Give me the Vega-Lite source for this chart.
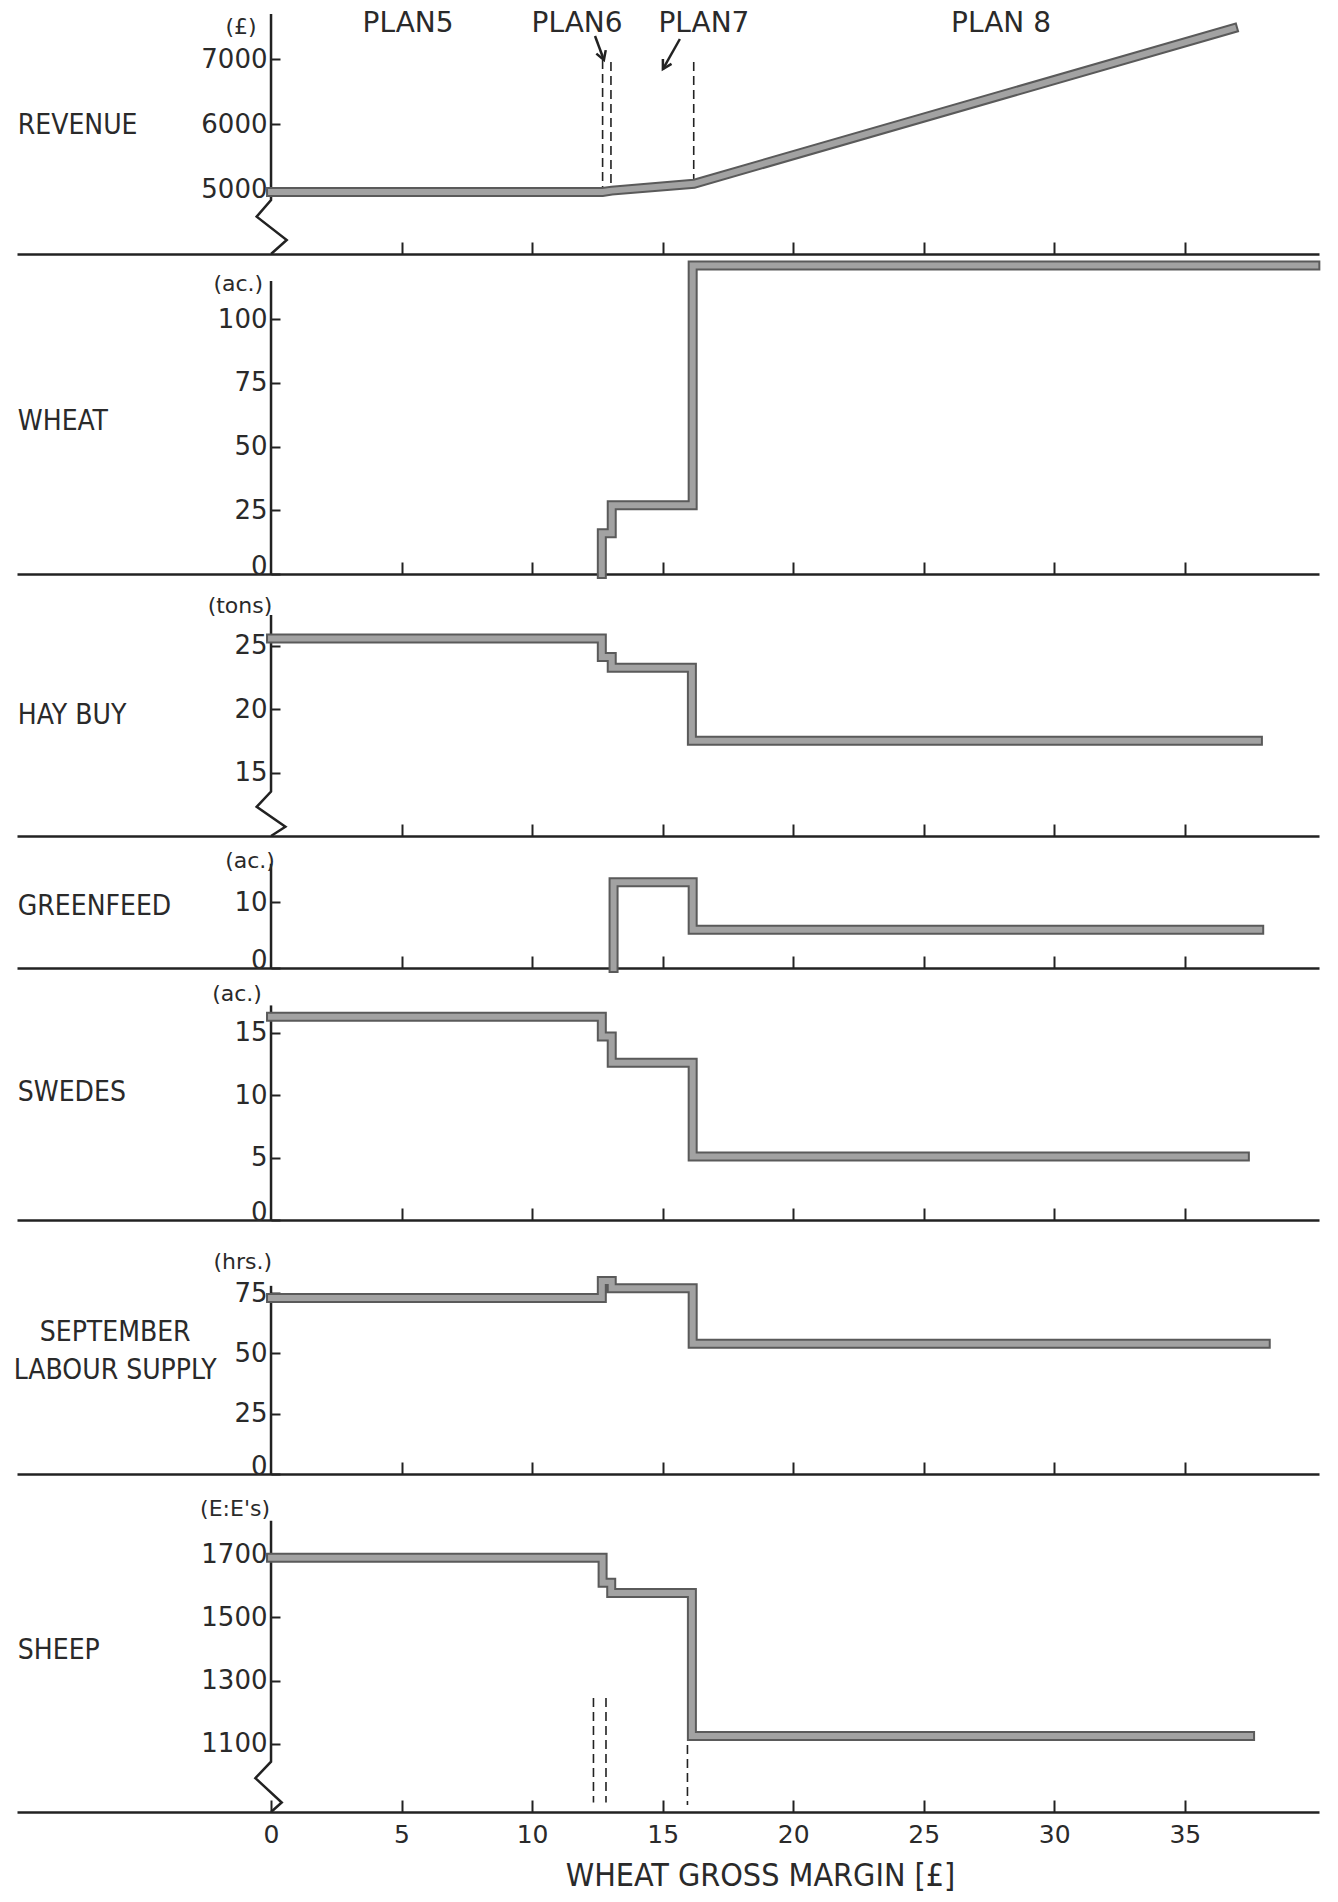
{
  "$schema": "https://vega.github.io/schema/vega-lite/v6.json",
  "background": "white",
  "padding": {"left": 13, "top": 0, "right": 0, "bottom": 8},
  "spacing": 0,
  "bounds": "flush",
  "config": {
    "view": {"stroke": null},
    "concat": {"spacing": 0},
    "axis": {"grid": false, "labelFont": "DejaVu Sans", "labelColor": "#2a2a2a", "domainColor": "#222", "tickColor": "#222", "format": "d"},
    "axisX": {"tickSize": -12, "tickWidth": 2, "domainWidth": 2.5, "labelFontSize": 25, "labelPadding": 22},
    "axisY": {"domain": false, "tickSize": -9, "tickWidth": 2, "labelPadding": 13, "labelFontSize": 26, "labelBaseline": {"condition": {"test": "datum.value === 0", "value": "alphabetic"}, "value": "middle"}}
  },
  "data": {"values": [
    {"p":"rev","k":"s","g":"s","o":1,"x":0,"y":4955},
    {"p":"rev","k":"s","g":"s","o":2,"x":12.7,"y":4955},
    {"p":"rev","k":"s","g":"s","o":3,"x":13.05,"y":4975},
    {"p":"rev","k":"s","g":"s","o":4,"x":16.2,"y":5080},
    {"p":"rev","k":"s","g":"s","o":5,"x":36.85,"y":7470},
    {"p":"rev","k":"i","g":"ax","o":1,"x":0,"y":7692},
    {"p":"rev","k":"i","g":"ax","o":2,"x":0,"y":4831},
    {"p":"rev","k":"i","g":"ax","o":3,"x":-0.55,"y":4574},
    {"p":"rev","k":"i","g":"ax","o":4,"x":0.6,"y":4215},
    {"p":"rev","k":"i","g":"ax","o":5,"x":0,"y":4000},
    {"p":"rev","k":"i","g":"a6","o":1,"x":12.41,"y":7354},
    {"p":"rev","k":"i","g":"a6","o":2,"x":12.75,"y":6985},
    {"p":"rev","k":"i","g":"a6h","o":1,"x":12.82,"y":7137},
    {"p":"rev","k":"i","g":"a6h","o":2,"x":12.75,"y":6985},
    {"p":"rev","k":"i","g":"a6h","o":3,"x":12.46,"y":7083},
    {"p":"rev","k":"i","g":"a7","o":1,"x":15.66,"y":7308},
    {"p":"rev","k":"i","g":"a7","o":2,"x":15.01,"y":6846},
    {"p":"rev","k":"i","g":"a7h","o":1,"x":15.34,"y":6925},
    {"p":"rev","k":"i","g":"a7h","o":2,"x":15.01,"y":6846},
    {"p":"rev","k":"i","g":"a7h","o":3,"x":15.01,"y":7000},
    {"p":"rev","k":"d","x":12.7,"y":6985,"y2":4960},
    {"p":"rev","k":"d","x":13.02,"y":6954,"y2":4970},
    {"p":"rev","k":"d","x":16.19,"y":6954,"y2":5085},
    {"p":"rev","k":"plan","x":5.25,"y":7538,"t":"PLAN5"},
    {"p":"rev","k":"plan","x":11.72,"y":7538,"t":"PLAN6"},
    {"p":"rev","k":"plan","x":16.58,"y":7538,"t":"PLAN7"},
    {"p":"rev","k":"plan","x":27.96,"y":7538,"t":"PLAN 8"},
    {"p":"rev","k":"row","x":-9.7,"y":5969,"t":"REVENUE"},
    {"p":"rev","k":"unit","x":-0.55,"y":7492,"t":"(£)"},

    {"p":"wht","k":"s","g":"s","o":1,"x":12.67,"y":0},
    {"p":"wht","k":"s","g":"s","o":2,"x":12.67,"y":16},
    {"p":"wht","k":"s","g":"s","o":3,"x":13.05,"y":16},
    {"p":"wht","k":"s","g":"s","o":4,"x":13.05,"y":27},
    {"p":"wht","k":"s","g":"s","o":5,"x":16.15,"y":27},
    {"p":"wht","k":"s","g":"s","o":6,"x":16.15,"y":121},
    {"p":"wht","k":"s","g":"s","o":7,"x":40.0,"y":121},
    {"p":"wht","k":"i","g":"ax","o":1,"x":0,"y":114.9},
    {"p":"wht","k":"i","g":"ax","o":2,"x":0,"y":0},
    {"p":"wht","k":"row","x":-9.7,"y":59.6,"t":"WHEAT"},
    {"p":"wht","k":"unit","x":-0.3,"y":113.7,"t":"(ac.)"},

    {"p":"hay","k":"s","g":"s","o":1,"x":0,"y":25.55},
    {"p":"hay","k":"s","g":"s","o":2,"x":12.67,"y":25.55},
    {"p":"hay","k":"s","g":"s","o":3,"x":12.67,"y":24.1},
    {"p":"hay","k":"s","g":"s","o":4,"x":13.05,"y":24.1},
    {"p":"hay","k":"s","g":"s","o":5,"x":13.05,"y":23.25},
    {"p":"hay","k":"s","g":"s","o":6,"x":16.12,"y":23.25},
    {"p":"hay","k":"s","g":"s","o":7,"x":16.12,"y":17.5},
    {"p":"hay","k":"s","g":"s","o":8,"x":37.8,"y":17.5},
    {"p":"hay","k":"i","g":"ax","o":1,"x":0,"y":27.4},
    {"p":"hay","k":"i","g":"ax","o":2,"x":0,"y":13.5},
    {"p":"hay","k":"i","g":"ax","o":3,"x":-0.55,"y":12.3},
    {"p":"hay","k":"i","g":"ax","o":4,"x":0.55,"y":10.73},
    {"p":"hay","k":"i","g":"ax","o":5,"x":0,"y":10},
    {"p":"hay","k":"row","x":-9.7,"y":19.45,"t":"HAY  BUY"},
    {"p":"hay","k":"unit","x":0.05,"y":28.1,"t":"(tons)"},

    {"p":"grn","k":"s","g":"s","o":1,"x":13.12,"y":0},
    {"p":"grn","k":"s","g":"s","o":2,"x":13.12,"y":13.0},
    {"p":"grn","k":"s","g":"s","o":3,"x":16.15,"y":13.0},
    {"p":"grn","k":"s","g":"s","o":4,"x":16.15,"y":5.8},
    {"p":"grn","k":"s","g":"s","o":5,"x":37.85,"y":5.8},
    {"p":"grn","k":"i","g":"ax","o":1,"x":0,"y":15.8},
    {"p":"grn","k":"i","g":"ax","o":2,"x":0,"y":0},
    {"p":"grn","k":"row","x":-9.7,"y":9.24,"t":"GREENFEED"},
    {"p":"grn","k":"unit","x":0.15,"y":16.2,"t":"(ac.)"},

    {"p":"swd","k":"s","g":"s","o":1,"x":0,"y":16.3},
    {"p":"swd","k":"s","g":"s","o":2,"x":12.67,"y":16.3},
    {"p":"swd","k":"s","g":"s","o":3,"x":12.67,"y":14.7},
    {"p":"swd","k":"s","g":"s","o":4,"x":13.05,"y":14.7},
    {"p":"swd","k":"s","g":"s","o":5,"x":13.05,"y":12.6},
    {"p":"swd","k":"s","g":"s","o":6,"x":16.15,"y":12.6},
    {"p":"swd","k":"s","g":"s","o":7,"x":16.15,"y":5.1},
    {"p":"swd","k":"s","g":"s","o":8,"x":37.3,"y":5.1},
    {"p":"swd","k":"i","g":"ax","o":1,"x":0,"y":17.2},
    {"p":"swd","k":"i","g":"ax","o":2,"x":0,"y":0},
    {"p":"swd","k":"row","x":-9.7,"y":10.2,"t":"SWEDES"},
    {"p":"swd","k":"unit","x":-0.35,"y":18.1,"t":"(ac.)"},

    {"p":"lab","k":"s","g":"s","o":1,"x":0,"y":73},
    {"p":"lab","k":"s","g":"s","o":2,"x":12.67,"y":73},
    {"p":"lab","k":"s","g":"s","o":3,"x":12.67,"y":80},
    {"p":"lab","k":"s","g":"s","o":4,"x":13.05,"y":80},
    {"p":"lab","k":"s","g":"s","o":5,"x":13.05,"y":77},
    {"p":"lab","k":"s","g":"s","o":6,"x":16.15,"y":77},
    {"p":"lab","k":"s","g":"s","o":7,"x":16.15,"y":54},
    {"p":"lab","k":"s","g":"s","o":8,"x":38.1,"y":54},
    {"p":"lab","k":"i","g":"ax","o":1,"x":0,"y":78},
    {"p":"lab","k":"i","g":"ax","o":2,"x":0,"y":0},
    {"p":"lab","k":"row","x":-5.97,"y":58.4,"t":"SEPTEMBER"},
    {"p":"lab","k":"row","x":-5.97,"y":42.7,"t":"LABOUR SUPPLY"},
    {"p":"lab","k":"unit","x":0.04,"y":88,"t":"(hrs.)"},

    {"p":"shp","k":"s","g":"s","o":1,"x":0,"y":1688},
    {"p":"shp","k":"s","g":"s","o":2,"x":12.7,"y":1688},
    {"p":"shp","k":"s","g":"s","o":3,"x":12.7,"y":1609},
    {"p":"shp","k":"s","g":"s","o":4,"x":13.03,"y":1609},
    {"p":"shp","k":"s","g":"s","o":5,"x":13.03,"y":1577},
    {"p":"shp","k":"s","g":"s","o":6,"x":16.12,"y":1577},
    {"p":"shp","k":"s","g":"s","o":7,"x":16.12,"y":1125},
    {"p":"shp","k":"s","g":"s","o":8,"x":37.5,"y":1125},
    {"p":"shp","k":"i","g":"ax","o":1,"x":0,"y":1805},
    {"p":"shp","k":"i","g":"ax","o":2,"x":0,"y":1044},
    {"p":"shp","k":"i","g":"ax","o":3,"x":-0.6,"y":992},
    {"p":"shp","k":"i","g":"ax","o":4,"x":0.41,"y":915},
    {"p":"shp","k":"i","g":"ax","o":5,"x":0,"y":885},
    {"p":"shp","k":"d","x":12.35,"y":1245,"y2":915},
    {"p":"shp","k":"d","x":12.83,"y":1245,"y2":915},
    {"p":"shp","k":"d","x":15.95,"y":1097,"y2":907},
    {"p":"shp","k":"row","x":-9.7,"y":1394,"t":"SHEEP"},
    {"p":"shp","k":"unit","x":-0.04,"y":1842,"t":"(E:E's)"}
  ]},
  "vconcat": [
    {
      "width": 1302, "height": 254,
      "transform": [{"filter": "datum.p == 'rev'"}],
      "encoding": {
        "x": {"field": "x", "type": "quantitative", "scale": {"domain": [-9.73, 40.14], "nice": false, "zero": false}, "axis": {"values": [5,10,15,20,25,30,35], "labels": false, "title": null}},
        "y": {"field": "y", "type": "quantitative", "scale": {"domain": [4000, 7908], "nice": false, "zero": false}, "axis": {"values": [5000,6000,7000], "offset": -254, "title": null}}
      },
      "layer": [
        {"transform": [{"filter": "datum.k == 'i'"}], "mark": {"type": "line", "stroke": "#222", "strokeWidth": 2.5, "strokeJoin": "miter"}, "encoding": {"detail": {"field": "g"}, "order": {"field": "o"}}},
        {"transform": [{"filter": "datum.k == 'd'"}], "mark": {"type": "rule", "stroke": "#222", "strokeWidth": 1.6, "strokeDash": [9, 5]}, "encoding": {"y2": {"field": "y2"}}},
        {"transform": [{"filter": "datum.k == 's'"}], "mark": {"type": "line", "stroke": "#5a5a5a", "strokeWidth": 10, "strokeCap": "square", "strokeJoin": "miter"}, "encoding": {"detail": {"field": "g"}, "order": {"field": "o"}}},
        {"transform": [{"filter": "datum.k == 's'"}], "mark": {"type": "line", "stroke": "#a2a2a2", "strokeWidth": 6, "strokeCap": "square", "strokeJoin": "miter"}, "encoding": {"detail": {"field": "g"}, "order": {"field": "o"}}},
        {"transform": [{"filter": "datum.k == 'plan'"}], "mark": {"type": "text", "font": "DejaVu Sans", "fontSize": 28, "align": "center", "baseline": "middle", "color": "#2a2a2a"}, "encoding": {"text": {"field": "t"}}},
        {"transform": [{"filter": "datum.k == 'row'"}], "mark": {"type": "text", "font": "Liberation Sans Narrow, DejaVu Sans Condensed, sans-serif", "fontSize": 28, "align": "left", "baseline": "middle", "color": "#2a2a2a"}, "encoding": {"text": {"field": "t"}}},
        {"transform": [{"filter": "datum.k == 'unit'"}], "mark": {"type": "text", "font": "DejaVu Sans", "fontSize": 22, "align": "right", "baseline": "middle", "color": "#2a2a2a"}, "encoding": {"text": {"field": "t"}}}
      ]
    },
    {
      "width": 1302, "height": 320,
      "transform": [{"filter": "datum.p == 'wht'"}],
      "encoding": {
        "x": {"field": "x", "type": "quantitative", "scale": {"domain": [-9.73, 40.14], "nice": false, "zero": false}, "axis": {"values": [5,10,15,20,25,30,35], "labels": false, "title": null}},
        "y": {"field": "y", "type": "quantitative", "scale": {"domain": [0, 125.5], "nice": false, "zero": false}, "axis": {"values": [0,25,50,75,100], "offset": -254, "title": null}}
      },
      "layer": [
        {"transform": [{"filter": "datum.k == 'i'"}], "mark": {"type": "line", "stroke": "#222", "strokeWidth": 2.5, "strokeJoin": "miter"}, "encoding": {"detail": {"field": "g"}, "order": {"field": "o"}}},
        {"transform": [{"filter": "datum.k == 's'"}], "mark": {"type": "line", "stroke": "#5a5a5a", "strokeWidth": 10, "strokeCap": "square", "strokeJoin": "miter"}, "encoding": {"detail": {"field": "g"}, "order": {"field": "o"}}},
        {"transform": [{"filter": "datum.k == 's'"}], "mark": {"type": "line", "stroke": "#a2a2a2", "strokeWidth": 6, "strokeCap": "square", "strokeJoin": "miter"}, "encoding": {"detail": {"field": "g"}, "order": {"field": "o"}}},
        {"transform": [{"filter": "datum.k == 'row'"}], "mark": {"type": "text", "font": "Liberation Sans Narrow, DejaVu Sans Condensed, sans-serif", "fontSize": 28, "align": "left", "baseline": "middle", "color": "#2a2a2a"}, "encoding": {"text": {"field": "t"}}},
        {"transform": [{"filter": "datum.k == 'unit'"}], "mark": {"type": "text", "font": "DejaVu Sans", "fontSize": 22, "align": "right", "baseline": "middle", "color": "#2a2a2a"}, "encoding": {"text": {"field": "t"}}}
      ]
    },
    {
      "width": 1302, "height": 262,
      "transform": [{"filter": "datum.p == 'hay'"}],
      "encoding": {
        "x": {"field": "x", "type": "quantitative", "scale": {"domain": [-9.73, 40.14], "nice": false, "zero": false}, "axis": {"values": [5,10,15,20,25,30,35], "labels": false, "title": null}},
        "y": {"field": "y", "type": "quantitative", "scale": {"domain": [10, 30.63], "nice": false, "zero": false}, "axis": {"values": [15,20,25], "offset": -254, "title": null}}
      },
      "layer": [
        {"transform": [{"filter": "datum.k == 'i'"}], "mark": {"type": "line", "stroke": "#222", "strokeWidth": 2.5, "strokeJoin": "miter"}, "encoding": {"detail": {"field": "g"}, "order": {"field": "o"}}},
        {"transform": [{"filter": "datum.k == 's'"}], "mark": {"type": "line", "stroke": "#5a5a5a", "strokeWidth": 10, "strokeCap": "square", "strokeJoin": "miter"}, "encoding": {"detail": {"field": "g"}, "order": {"field": "o"}}},
        {"transform": [{"filter": "datum.k == 's'"}], "mark": {"type": "line", "stroke": "#a2a2a2", "strokeWidth": 6, "strokeCap": "square", "strokeJoin": "miter"}, "encoding": {"detail": {"field": "g"}, "order": {"field": "o"}}},
        {"transform": [{"filter": "datum.k == 'row'"}], "mark": {"type": "text", "font": "Liberation Sans Narrow, DejaVu Sans Condensed, sans-serif", "fontSize": 28, "align": "left", "baseline": "middle", "color": "#2a2a2a"}, "encoding": {"text": {"field": "t"}}},
        {"transform": [{"filter": "datum.k == 'unit'"}], "mark": {"type": "text", "font": "DejaVu Sans", "fontSize": 22, "align": "right", "baseline": "middle", "color": "#2a2a2a"}, "encoding": {"text": {"field": "t"}}}
      ]
    },
    {
      "width": 1302, "height": 132,
      "transform": [{"filter": "datum.p == 'grn'"}],
      "encoding": {
        "x": {"field": "x", "type": "quantitative", "scale": {"domain": [-9.73, 40.14], "nice": false, "zero": false}, "axis": {"values": [5,10,15,20,25,30,35], "labels": false, "title": null}},
        "y": {"field": "y", "type": "quantitative", "scale": {"domain": [0, 20], "nice": false, "zero": false}, "axis": {"values": [0,10], "offset": -254, "title": null}}
      },
      "layer": [
        {"transform": [{"filter": "datum.k == 'i'"}], "mark": {"type": "line", "stroke": "#222", "strokeWidth": 2.5, "strokeJoin": "miter"}, "encoding": {"detail": {"field": "g"}, "order": {"field": "o"}}},
        {"transform": [{"filter": "datum.k == 's'"}], "mark": {"type": "line", "stroke": "#5a5a5a", "strokeWidth": 10, "strokeCap": "square", "strokeJoin": "miter"}, "encoding": {"detail": {"field": "g"}, "order": {"field": "o"}}},
        {"transform": [{"filter": "datum.k == 's'"}], "mark": {"type": "line", "stroke": "#a2a2a2", "strokeWidth": 6, "strokeCap": "square", "strokeJoin": "miter"}, "encoding": {"detail": {"field": "g"}, "order": {"field": "o"}}},
        {"transform": [{"filter": "datum.k == 'row'"}], "mark": {"type": "text", "font": "Liberation Sans Narrow, DejaVu Sans Condensed, sans-serif", "fontSize": 28, "align": "left", "baseline": "middle", "color": "#2a2a2a"}, "encoding": {"text": {"field": "t"}}},
        {"transform": [{"filter": "datum.k == 'unit'"}], "mark": {"type": "text", "font": "DejaVu Sans", "fontSize": 22, "align": "right", "baseline": "middle", "color": "#2a2a2a"}, "encoding": {"text": {"field": "t"}}}
      ]
    },
    {
      "width": 1302, "height": 252,
      "transform": [{"filter": "datum.p == 'swd'"}],
      "encoding": {
        "x": {"field": "x", "type": "quantitative", "scale": {"domain": [-9.73, 40.14], "nice": false, "zero": false}, "axis": {"values": [5,10,15,20,25,30,35], "labels": false, "title": null}},
        "y": {"field": "y", "type": "quantitative", "scale": {"domain": [0, 20.2], "nice": false, "zero": false}, "axis": {"values": [0,5,10,15], "offset": -254, "title": null}}
      },
      "layer": [
        {"transform": [{"filter": "datum.k == 'i'"}], "mark": {"type": "line", "stroke": "#222", "strokeWidth": 2.5, "strokeJoin": "miter"}, "encoding": {"detail": {"field": "g"}, "order": {"field": "o"}}},
        {"transform": [{"filter": "datum.k == 's'"}], "mark": {"type": "line", "stroke": "#5a5a5a", "strokeWidth": 10, "strokeCap": "square", "strokeJoin": "miter"}, "encoding": {"detail": {"field": "g"}, "order": {"field": "o"}}},
        {"transform": [{"filter": "datum.k == 's'"}], "mark": {"type": "line", "stroke": "#a2a2a2", "strokeWidth": 6, "strokeCap": "square", "strokeJoin": "miter"}, "encoding": {"detail": {"field": "g"}, "order": {"field": "o"}}},
        {"transform": [{"filter": "datum.k == 'row'"}], "mark": {"type": "text", "font": "Liberation Sans Narrow, DejaVu Sans Condensed, sans-serif", "fontSize": 28, "align": "left", "baseline": "middle", "color": "#2a2a2a"}, "encoding": {"text": {"field": "t"}}},
        {"transform": [{"filter": "datum.k == 'unit'"}], "mark": {"type": "text", "font": "DejaVu Sans", "fontSize": 22, "align": "right", "baseline": "middle", "color": "#2a2a2a"}, "encoding": {"text": {"field": "t"}}}
      ]
    },
    {
      "width": 1302, "height": 254,
      "transform": [{"filter": "datum.p == 'lab'"}],
      "encoding": {
        "x": {"field": "x", "type": "quantitative", "scale": {"domain": [-9.73, 40.14], "nice": false, "zero": false}, "axis": {"values": [5,10,15,20,25,30,35], "labels": false, "title": null}},
        "y": {"field": "y", "type": "quantitative", "scale": {"domain": [0, 105.3], "nice": false, "zero": false}, "axis": {"values": [0,25,50,75], "offset": -254, "title": null}}
      },
      "layer": [
        {"transform": [{"filter": "datum.k == 'i'"}], "mark": {"type": "line", "stroke": "#222", "strokeWidth": 2.5, "strokeJoin": "miter"}, "encoding": {"detail": {"field": "g"}, "order": {"field": "o"}}},
        {"transform": [{"filter": "datum.k == 's'"}], "mark": {"type": "line", "stroke": "#5a5a5a", "strokeWidth": 10, "strokeCap": "square", "strokeJoin": "miter"}, "encoding": {"detail": {"field": "g"}, "order": {"field": "o"}}},
        {"transform": [{"filter": "datum.k == 's'"}], "mark": {"type": "line", "stroke": "#a2a2a2", "strokeWidth": 6, "strokeCap": "square", "strokeJoin": "miter"}, "encoding": {"detail": {"field": "g"}, "order": {"field": "o"}}},
        {"transform": [{"filter": "datum.k == 'row'"}], "mark": {"type": "text", "font": "Liberation Sans Narrow, DejaVu Sans Condensed, sans-serif", "fontSize": 28, "align": "center", "baseline": "middle", "color": "#2a2a2a"}, "encoding": {"text": {"field": "t"}}},
        {"transform": [{"filter": "datum.k == 'unit'"}], "mark": {"type": "text", "font": "DejaVu Sans", "fontSize": 22, "align": "right", "baseline": "middle", "color": "#2a2a2a"}, "encoding": {"text": {"field": "t"}}}
      ]
    },
    {
      "width": 1302, "height": 338,
      "transform": [{"filter": "datum.p == 'shp'"}],
      "encoding": {
        "x": {"field": "x", "type": "quantitative", "scale": {"domain": [-9.73, 40.14], "nice": false, "zero": false}, "axis": {"values": [0,5,10,15,20,25,30,35], "title": "WHEAT GROSS MARGIN [£]", "titleFont": "Liberation Sans Narrow, DejaVu Sans Condensed, sans-serif", "titleFontSize": 32, "titleFontWeight": "normal", "titleColor": "#2a2a2a", "titleX": 743, "titleY": 63, "titleAlign": "center", "titleBaseline": "middle"}},
        "y": {"field": "y", "type": "quantitative", "scale": {"domain": [885, 1953], "nice": false, "zero": false}, "axis": {"values": [1100,1300,1500,1700], "offset": -254, "title": null}}
      },
      "layer": [
        {"transform": [{"filter": "datum.k == 'i'"}], "mark": {"type": "line", "stroke": "#222", "strokeWidth": 2.5, "strokeJoin": "miter"}, "encoding": {"detail": {"field": "g"}, "order": {"field": "o"}}},
        {"transform": [{"filter": "datum.k == 'd'"}], "mark": {"type": "rule", "stroke": "#222", "strokeWidth": 1.6, "strokeDash": [9, 5]}, "encoding": {"y2": {"field": "y2"}}},
        {"transform": [{"filter": "datum.k == 's'"}], "mark": {"type": "line", "stroke": "#5a5a5a", "strokeWidth": 10, "strokeCap": "square", "strokeJoin": "miter"}, "encoding": {"detail": {"field": "g"}, "order": {"field": "o"}}},
        {"transform": [{"filter": "datum.k == 's'"}], "mark": {"type": "line", "stroke": "#a2a2a2", "strokeWidth": 6, "strokeCap": "square", "strokeJoin": "miter"}, "encoding": {"detail": {"field": "g"}, "order": {"field": "o"}}},
        {"transform": [{"filter": "datum.k == 'row'"}], "mark": {"type": "text", "font": "Liberation Sans Narrow, DejaVu Sans Condensed, sans-serif", "fontSize": 28, "align": "left", "baseline": "middle", "color": "#2a2a2a"}, "encoding": {"text": {"field": "t"}}},
        {"transform": [{"filter": "datum.k == 'unit'"}], "mark": {"type": "text", "font": "DejaVu Sans", "fontSize": 22, "align": "right", "baseline": "middle", "color": "#2a2a2a"}, "encoding": {"text": {"field": "t"}}}
      ]
    }
  ]
}
